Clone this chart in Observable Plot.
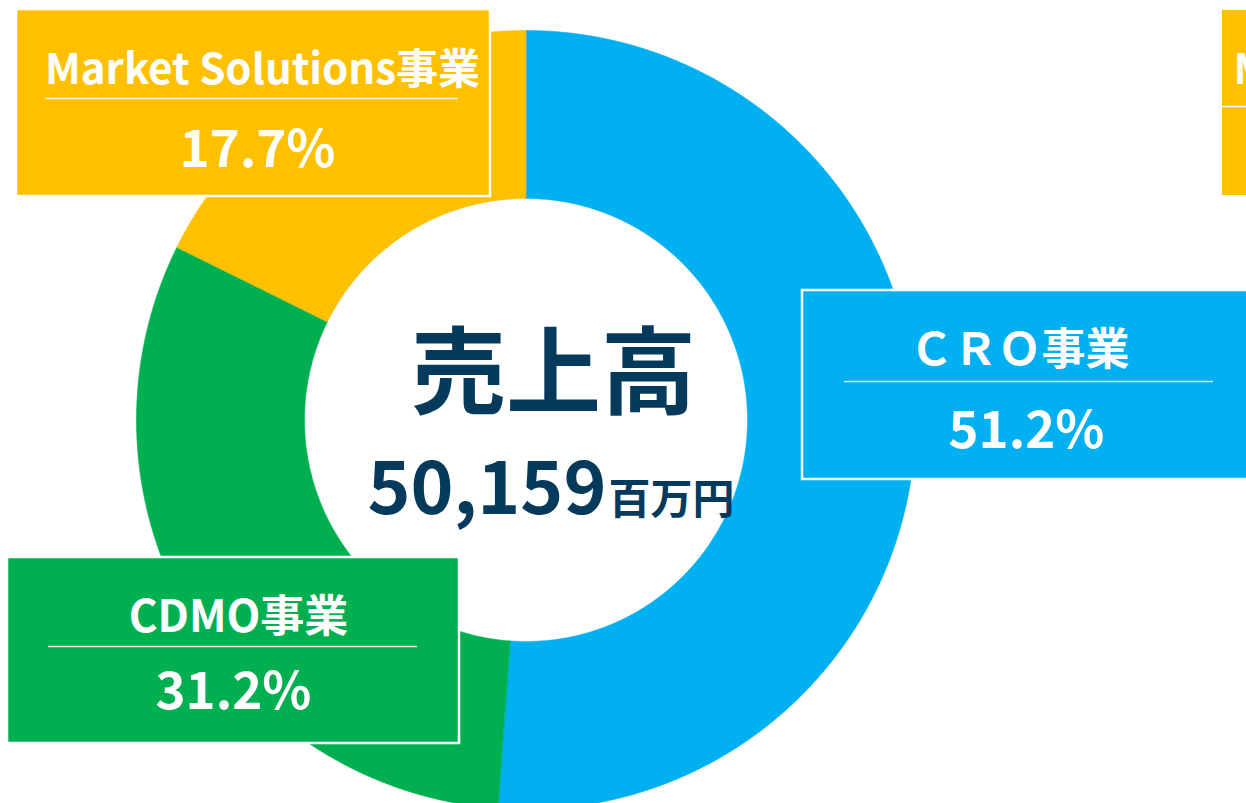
<!DOCTYPE html>
<html>
<head>
<meta charset="utf-8">
<script src="https://cdn.jsdelivr.net/npm/d3@7"></script>
<script src="https://cdn.jsdelivr.net/npm/@observablehq/plot@0.6"></script>
<style>
html, body { margin: 0; padding: 0; background: #fff; overflow: hidden; }
#chart svg { display: block; }
</style>
</head>
<body>
<div id="chart"></div>
<script>
// ---- data ----
const segments = ["CRO事業", "CDMO事業", "Market Solutions事業"];
const segmentLabels = ["ＣＲＯ事業", "CDMO事業", "Market Solutions事業"];
const shares = [51.2, 31.2, 17.7];
const shareLabels = ["51.2%", "31.2%", "17.7%"];
const segmentColors = ["#00b0f0", "#00b050", "#ffc000"];
const centerTitle = "売上高";
const totalValue = "50,159";
const totalUnit = "百万円";
// partially visible neighbouring panel (cut by the right edge)
const neighbourLabel = "Market Solutions事業";

// ---- layout (pixels) ----
const W = 1246, H = 803;
const ring = {cx: 525.5, cy: 419.5, inner: 221.5, outer: 389.5};
const boxLayout = [
  {x1: 802, x2: 1262, y1: 290, y2: 479, nameX: 1019, nameY: 364, nameSize: 44, ruleY: 381, ruleX1: 844, ruleX2: 1213, pctX: 1026, pctY: 447},
  {x1: 7, x2: 459, y1: 557, y2: 743, nameX: 238, nameY: 631, nameSize: 44, ruleY: 646, ruleX1: 48, ruleX2: 417, pctX: 233, pctY: 708},
  {x1: 16, x2: 490, y1: 9, y2: 196, nameX: 262, nameY: 83, nameSize: 42, ruleY: 98, ruleX1: 45, ruleX2: 458, pctX: 257, pctY: 166}
];
const neighbourLayout = {x1: 1221, x2: 1300, y1: 9, y2: 196, nameX: 1233, nameY: 83, ruleY: 106, ruleX1: 1221, ruleX2: 1300};

// ---- build tables ----
const rows = segments.map((s, i) => ({name: s, share: shares[i], color: segmentColors[i]}));
const arcs = d3.pie().sort(null).value(d => d.share)(rows);
const slicePoints = arcs.flatMap(a => {
  const n = Math.max(4, Math.ceil((a.endAngle - a.startAngle) / 0.004));
  const pts = [];
  for (let i = 0; i <= n; i++) {
    const t = a.startAngle + (a.endAngle - a.startAngle) * i / n;
    pts.push({name: a.data.name, color: a.data.color, x: ring.cx + ring.outer * Math.sin(t), y: ring.cy - ring.outer * Math.cos(t)});
  }
  for (let i = n; i >= 0; i--) {
    const t = a.startAngle + (a.endAngle - a.startAngle) * i / n;
    pts.push({name: a.data.name, color: a.data.color, x: ring.cx + ring.inner * Math.sin(t), y: ring.cy - ring.inner * Math.cos(t)});
  }
  return pts;
});
const boxes = boxLayout.map((b, i) => ({...b, name: segmentLabels[i], pct: shareLabels[i], color: segmentColors[i]}));
const neighbour = [{...neighbourLayout, name: neighbourLabel, color: segmentColors[2]}];
const centre = [{x: ring.cx + 27.5, y: 406, text: centerTitle}];
const totalRow = [{x: 606, y: 513, value: totalValue, unitX: 608, unitY: 513, unit: totalUnit}];

const font = "'Noto Sans CJK JP', 'Noto Sans', sans-serif";
const navy = "#063a5c";

const chart = Plot.plot({
  width: W, height: H, margin: 0,
  x: {domain: [0, W], range: [0, W], axis: null},
  y: {domain: [0, H], range: [0, H], axis: null},
  color: {type: "identity"},
  style: {overflow: "hidden", background: "#fff", fontFamily: font},
  marks: [
    Plot.line(slicePoints, {x: "x", y: "y", z: "name", fill: "color", stroke: "color", strokeWidth: 0.6, curve: "linear-closed"}),
    // neighbouring panel fragment
    Plot.rect(neighbour, {x1: "x1", x2: "x2", y1: "y1", y2: "y2", fill: "color", stroke: "#fff", strokeWidth: 2}),
    Plot.ruleY(neighbour, {y: "ruleY", x1: "ruleX1", x2: "ruleX2", stroke: "#fff", strokeWidth: 1.5}),
    Plot.text(neighbour, {x: "nameX", y: "nameY", text: "name", textAnchor: "start", lineAnchor: "bottom", fill: "#fff", fontSize: 42, fontWeight: "bold"}),
    // label boxes
    Plot.rect(boxes, {x1: "x1", x2: "x2", y1: "y1", y2: "y2", fill: "color", stroke: "#fff", strokeWidth: 2.5}),
    Plot.ruleY(boxes, {y: "ruleY", x1: "ruleX1", x2: "ruleX2", stroke: "#fff", strokeOpacity: 0.85, strokeWidth: 1.5}),
    Plot.text(boxes, {x: "nameX", y: "nameY", text: "name", lineAnchor: "bottom", fill: "#fff", fontSize: d => d.nameSize, fontWeight: "bold"}),
    Plot.text(boxes, {x: "pctX", y: "pctY", text: "pct", lineAnchor: "bottom", fill: "#fff", fontSize: 51, fontWeight: "bold", ariaLabel: "pct"}),
    // centre
    Plot.text(centre, {x: "x", y: "y", text: "text", lineAnchor: "bottom", fill: navy, fontSize: 95, fontWeight: "bold"}),
    Plot.text(totalRow, {x: "x", y: "y", text: "value", textAnchor: "end", lineAnchor: "bottom", fill: navy, fontSize: 73, fontWeight: "bold"}),
    Plot.text(totalRow, {x: "unitX", y: "unitY", text: "unit", textAnchor: "start", lineAnchor: "bottom", fill: navy, fontSize: 42, fontWeight: "bold"})
  ]
});
chart.querySelectorAll('g[aria-label="pct"]').forEach(g => g.setAttribute("letter-spacing", "2"));
document.getElementById("chart").appendChild(chart);
</script>
</body>
</html>
